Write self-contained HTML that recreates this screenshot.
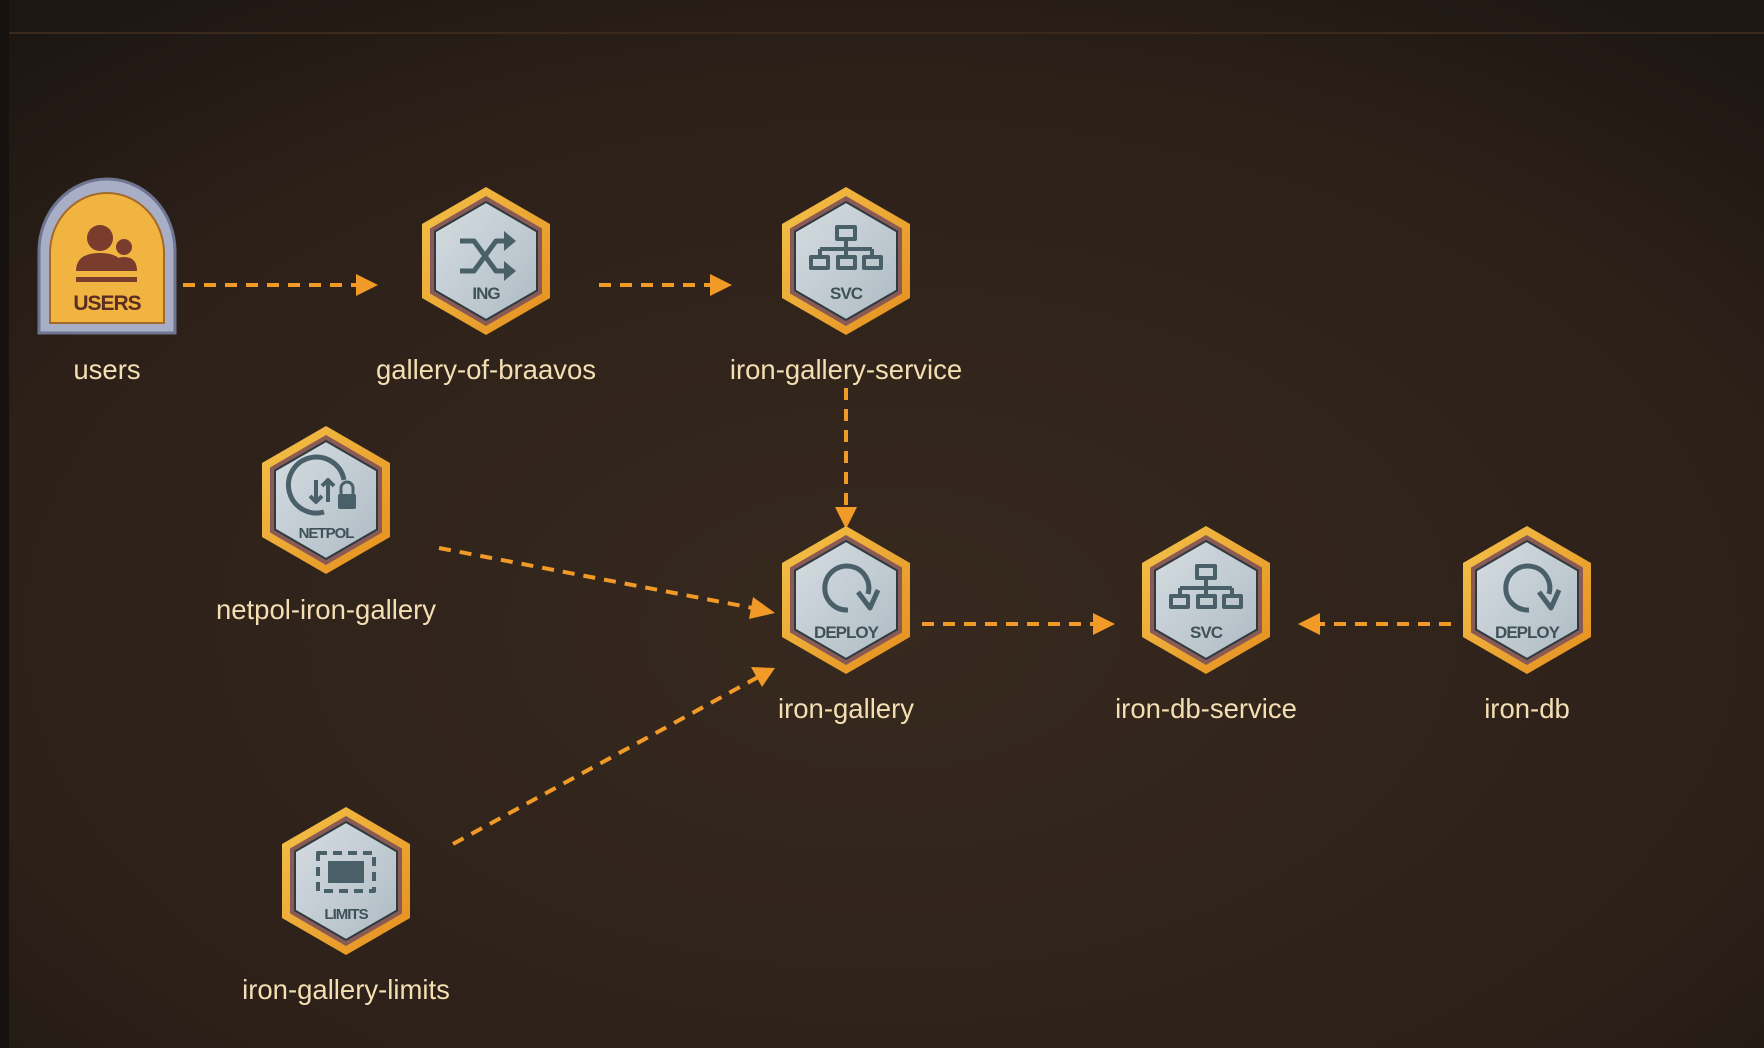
<!DOCTYPE html>
<html><head><meta charset="utf-8"><style>
html,body{margin:0;padding:0;width:1764px;height:1048px;overflow:hidden;background:#2a1f18}
svg{display:block}
.lbl{font-family:"Liberation Sans",sans-serif;font-size:27.5px;fill:#f4dfb2;text-anchor:middle}
.tag{font-family:"Liberation Sans",sans-serif;font-size:17px;font-weight:bold;fill:#3f5258;text-anchor:middle;letter-spacing:-1px}
.ic{fill:none;stroke:#4a6068;stroke-width:5;stroke-linejoin:round}
.ed{stroke:#f29a27;stroke-width:4;stroke-dasharray:12 9;fill:none}
</style></head><body>
<svg width="1764" height="1048" viewBox="0 0 1764 1048">
<defs>
<radialGradient id="bg" cx="0.5" cy="0.6" r="0.75">
<stop offset="0" stop-color="#37291e"/><stop offset="0.7" stop-color="#2c2019"/><stop offset="1" stop-color="#1d1611"/>
</radialGradient>
<linearGradient id="gold" x1="0" y1="0" x2="1" y2="1">
<stop offset="0" stop-color="#f3c24a"/><stop offset="1" stop-color="#e58e1e"/>
</linearGradient>
<linearGradient id="silver" x1="0" y1="0" x2="1" y2="1">
<stop offset="0" stop-color="#d6dde2"/><stop offset="1" stop-color="#aebbc3"/>
</linearGradient>
<g id="hex">
<polygon points="0,-74 64,-37 64,37 0,74 -64,37 -64,-37" fill="url(#gold)"/>
<polygon points="0,-65 56,-32.5 56,32.5 0,65 -56,32.5 -56,-32.5" fill="#8a5a55"/>
<polygon points="0,-59 51,-29.5 51,29.5 0,59 -51,29.5 -51,-29.5" fill="url(#silver)" stroke="#2e3a40" stroke-width="2"/>
</g>
</defs>
<rect width="1764" height="1048" fill="url(#bg)"/>
<rect x="0" y="0" width="9" height="1048" fill="#171210"/>
<line x1="9" y1="33" x2="1764" y2="33" stroke="#3a2a1e" stroke-width="2"/>

<g>
<line class="ed" x1="183" y1="285" x2="362" y2="285"/><path d="M356,274 L378,285 L356,296z" fill="#f29a27"/>
<line class="ed" x1="599" y1="285" x2="716" y2="285"/><path d="M710,274 L732,285 L710,296z" fill="#f29a27"/>
<line class="ed" x1="846" y1="388" x2="846" y2="512"/><path d="M835,507 L846,529 L857,507z" fill="#f29a27"/>
<line class="ed" x1="439" y1="548" x2="758" y2="609"/><path d="M753,597 L775,613 L749,619z" fill="#f29a27"/>
<line class="ed" x1="453" y1="844" x2="760" y2="676"/><path d="M751,667 L775,668 L762,687z" fill="#f29a27"/>
<line class="ed" x1="922" y1="624" x2="1098" y2="624"/><path d="M1093,613 L1115,624 L1093,635z" fill="#f29a27"/>
<line class="ed" x1="1451" y1="624" x2="1315" y2="624"/><path d="M1320,613 L1298,624 L1320,635z" fill="#f29a27"/>
</g>

<g transform="translate(107,261)">
<path d="M-68,72 L-68,-10 A68,72 0 0 1 68,-10 L68,72 Z" fill="#a7aec6" stroke="#6f7590" stroke-width="3"/>
<path d="M-57,62 L-57,-8 A57,60 0 0 1 57,-8 L57,62 Z" fill="#f2b440" stroke="#a36a2a" stroke-width="2"/>
<circle cx="-7" cy="-23" r="13" fill="#7a3c2c"/>
<path d="M-31,10 Q-31,-8 -7,-8 Q17,-8 17,10z" fill="#7a3c2c"/>
<circle cx="17" cy="-14" r="8" fill="#7a3c2c"/>
<path d="M4,10 Q4,-4 17,-4 Q30,-4 30,10z" fill="#7a3c2c"/>
<rect x="-31" y="16" width="61" height="5" fill="#7a3c2c"/>
<text x="0" y="49" class="tag" style="fill:#5a2e22;font-size:21px">USERS</text>
</g>
<text x="107" y="379" class="lbl">users</text>

<g transform="translate(486,261)">
<use href="#hex"/>
<path class="ic" d="M-26,-20 L-12,-20 L10,10 L24,10 M-26,10 L-12,10 L10,-20 L24,-20"/>
<path d="M18,-30 L30,-20 L18,-10z M18,0 L30,10 L18,20z" fill="#4a6068"/>
<text x="0" y="38" class="tag">ING</text>
</g>
<text x="486" y="379" class="lbl">gallery-of-braavos</text>

<g transform="translate(846,261)">
<use href="#hex"/>
<rect x="-9" y="-34" width="18" height="12" class="ic" style="stroke-width:4"/>
<path class="ic" style="stroke-width:4" d="M0,-22 V-12 M-26,-12 H26 M-26,-12 V-4 M0,-12 V-4 M26,-12 V-4"/>
<rect x="-35" y="-4" width="17" height="11" class="ic" style="stroke-width:4"/>
<rect x="-8" y="-4" width="17" height="11" class="ic" style="stroke-width:4"/>
<rect x="18" y="-4" width="17" height="11" class="ic" style="stroke-width:4"/>
<text x="0" y="38" class="tag">SVC</text>
</g>
<text x="846" y="379" class="lbl">iron-gallery-service</text>

<g transform="translate(326,500)">
<use href="#hex"/>
<path class="ic" d="M18,-20 A28,28 0 1 0 -2,12"/>
<path class="ic" style="stroke-width:4" d="M-10,-20 V2 M-16,-4 L-10,2 L-4,-4 M2,2 V-20 M-4,-14 L2,-20 L8,-14"/>
<rect x="12" y="-6" width="18" height="15" rx="2" fill="#4a6068"/>
<path d="M15,-6 V-12 A6,6 0 0 1 27,-12 V-6" fill="none" stroke="#4a6068" stroke-width="3"/>
<text x="0" y="38" class="tag" style="font-size:15px">NETPOL</text>
</g>
<text x="326" y="619" class="lbl">netpol-iron-gallery</text>

<g transform="translate(846,600)">
<use href="#hex"/>
<path class="ic" d="M2,10 A22,22 0 1 1 22,-6"/>
<path class="ic" d="M12,-8 L24,8 L32,-10"/>
<text x="0" y="38" class="tag">DEPLOY</text>
</g>
<text x="846" y="718" class="lbl">iron-gallery</text>

<g transform="translate(1206,600)">
<use href="#hex"/>
<rect x="-9" y="-34" width="18" height="12" class="ic" style="stroke-width:4"/>
<path class="ic" style="stroke-width:4" d="M0,-22 V-12 M-26,-12 H26 M-26,-12 V-4 M0,-12 V-4 M26,-12 V-4"/>
<rect x="-35" y="-4" width="17" height="11" class="ic" style="stroke-width:4"/>
<rect x="-8" y="-4" width="17" height="11" class="ic" style="stroke-width:4"/>
<rect x="18" y="-4" width="17" height="11" class="ic" style="stroke-width:4"/>
<text x="0" y="38" class="tag">SVC</text>
</g>
<text x="1206" y="718" class="lbl">iron-db-service</text>

<g transform="translate(1527,600)">
<use href="#hex"/>
<path class="ic" d="M2,10 A22,22 0 1 1 22,-6"/>
<path class="ic" d="M12,-8 L24,8 L32,-10"/>
<text x="0" y="38" class="tag">DEPLOY</text>
</g>
<text x="1527" y="718" class="lbl">iron-db</text>

<g transform="translate(346,881)">
<use href="#hex"/>
<rect x="-28" y="-28" width="56" height="38" class="ic" style="stroke-width:4;stroke-dasharray:9 6"/>
<rect x="-18" y="-20" width="36" height="22" fill="#4a6068"/>
<text x="0" y="38" class="tag" style="font-size:15px">LIMITS</text>
</g>
<text x="346" y="999" class="lbl">iron-gallery-limits</text>
</svg>
</body></html>
